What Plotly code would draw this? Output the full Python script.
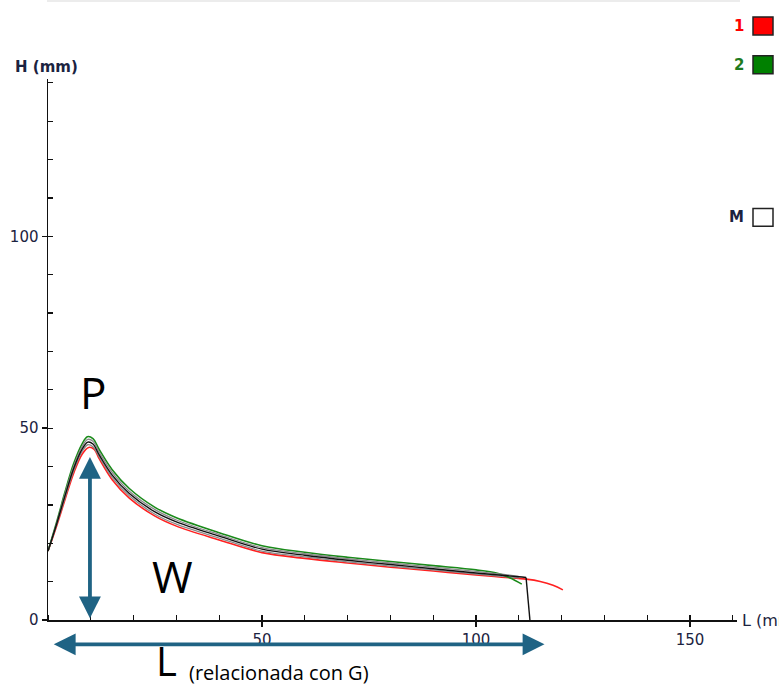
import plotly.graph_objects as go

# Series: 1 (red), 2 (green), M (black) and two intermediate grey curves
x_red = [0, 2, 4, 6, 8, 9.5, 10.8, 12, 15, 19, 25, 30, 40, 50, 60, 70, 80, 90, 100, 106, 111.7, 115, 118, 120.3]
y_red = [18, 24.5, 31.5, 38.3, 43.3, 45.0, 44.5, 42.0, 36.6, 31.8, 27.1, 24.5, 20.9, 17.6, 16.1, 14.9, 13.8, 12.8, 11.8, 11.2, 10.7, 10.1, 9.1, 7.9]

x_green = [0, 2, 4, 6, 8, 9.2, 10.5, 12, 15, 19, 25, 30, 40, 50, 60, 70, 80, 90, 100, 105, 108, 110.7]
y_green = [18, 25.5, 33.5, 40.8, 46.0, 47.8, 47.3, 44.4, 39.2, 34.3, 29.4, 26.7, 22.8, 19.4, 17.7, 16.4, 15.3, 14.2, 13.1, 12.2, 11.0, 9.4]

x_m = [0, 2, 4, 6, 8, 9.3, 10.5, 12, 15, 19, 25, 30, 40, 50, 60, 70, 80, 90, 100, 106, 110, 111.7, 112.6]
y_m = [18, 25, 32.5, 39.5, 44.6, 46.4, 45.9, 43.0, 37.8, 33.0, 28.2, 25.6, 21.9, 18.5, 16.9, 15.6, 14.5, 13.4, 12.3, 11.7, 11.3, 11.1, 0]

x_grey = [0, 2, 4, 6, 8, 9.3, 10.5, 12, 15, 19, 25, 30, 40, 50, 60, 70, 80, 90, 100, 106, 110]
y_grey_hi = [18, 25.2, 33.0, 40.1, 45.3, 47.1, 46.6, 43.7, 38.5, 33.6, 28.8, 26.1, 22.3, 18.9, 17.3, 16.0, 14.9, 13.8, 12.7, 12.0, 11.4]
y_grey_lo = [18, 24.8, 32.0, 38.9, 44.0, 45.7, 45.2, 42.5, 37.2, 32.4, 27.6, 25.0, 21.4, 18.0, 16.5, 15.2, 14.1, 13.1, 12.0, 11.4, 11.0]

x_major = [50, 100, 150]
y_major = [0, 50, 100]
x_range = [0, 161]
y_range = [0, 141]

# annotation arrows in data units: vertical (W) and horizontal (L)
w_arrow_x = [9.8, 9.8]
w_arrow_y = [0.5, 42.8]
l_arrow_x = [1.0, 116.0]
l_arrow_y = [-6.3, -6.3]

legend_labels = ["1", "2", "M"]
legend_colors = ["#ff0000", "#008000", "#ffffff"]
legend_text_colors = ["#ff0000", "#1e7a1e", "#1b2340"]

ARROW = "#1f6384"
W, H = 779, 691
HE = 684  # effective rendered vertical extent used for pixel mapping

fig = go.Figure()
sm = dict(shape="spline", smoothing=1.0)
fig.add_trace(go.Scatter(x=x_red, y=y_red, mode="lines", line=dict(color="#ff2020", width=1.6, **sm), hoverinfo="skip"))
fig.add_trace(go.Scatter(x=x_grey, y=y_grey_lo, mode="lines", line=dict(color="#8a8a8a", width=1.3, **sm), hoverinfo="skip"))
fig.add_trace(go.Scatter(x=x_green, y=y_green, mode="lines", line=dict(color="#1a8a1a", width=1.6, **sm), hoverinfo="skip"))
fig.add_trace(go.Scatter(x=x_grey, y=y_grey_hi, mode="lines", line=dict(color="#8a8a8a", width=1.3, **sm), hoverinfo="skip"))
fig.add_trace(go.Scatter(x=x_m[:-1], y=y_m[:-1], mode="lines", line=dict(color="#111111", width=1.4, **sm), hoverinfo="skip"))
fig.add_trace(go.Scatter(x=x_m[-2:], y=y_m[-2:], mode="lines", line=dict(color="#111111", width=1.4), hoverinfo="skip"))

def px(xp):
    return xp / W

def py(yp):
    return (HE - yp) / HE

# pixel geometry
x0px, xpx_per = 48, 4.28
y0px, ypx_per = 622, 3.85
xdom = [px(x0px), px(x0px + x_range[1] * xpx_per)]
ydom = [py(y0px), py(y0px - y_range[1] * ypx_per)]

def data_to_paper_x(v):
    return px(x0px + v * xpx_per)

def data_to_paper_y(v):
    return py(y0px - v * ypx_per)

tickfont = dict(family="DejaVu Sans", size=15, color="#1b2340")
fig.update_xaxes(range=x_range, domain=xdom, showgrid=False, zeroline=False,
                 showline=True, linecolor="#111", linewidth=1.5,
                 tickmode="array", tickvals=x_major, ticks="outside", ticklen=5, tickwidth=1.5, tickcolor="#111",
                 minor=dict(ticks="inside", dtick=10, tick0=0, ticklen=5, tickwidth=1.2, tickcolor="#111"),
                 tickfont=tickfont, fixedrange=True)
fig.update_yaxes(range=y_range, domain=ydom, showgrid=False, zeroline=False,
                 showline=True, linecolor="#111", linewidth=1.5,
                 tickmode="array", tickvals=y_major, ticks="outside", ticklen=5, tickwidth=1.5, tickcolor="#111",
                 minor=dict(ticks="inside", dtick=10, tick0=0, ticklen=5, tickwidth=1.2, tickcolor="#111"),
                 tickfont=tickfont, fixedrange=True)

shapes = []
annotations = []
# top faint border
shapes.append(dict(type="line", xref="paper", yref="paper", x0=px(47), x1=px(740), y0=py(1), y1=py(1),
                   line=dict(color="#e6e6e6", width=1.5)))
# legend boxes
legend_rows = [26, 65, 218]
for lab, fc, tc, yc in zip(legend_labels, legend_colors, legend_text_colors, legend_rows):
    shapes.append(dict(type="rect", xref="paper", yref="paper", x0=px(753), x1=px(773), y0=py(yc + 9), y1=py(yc - 9),
                       fillcolor=fc, line=dict(color="#222", width=1.5)))
    annotations.append(dict(text="<b>%s</b>" % lab, xref="paper", yref="paper", x=px(746), y=py(yc),
                            xanchor="right", yanchor="middle", showarrow=False,
                            font=dict(family="DejaVu Sans", size=15, color=tc)))

# axis titles
annotations.append(dict(text="<b>H (mm)</b>", xref="paper", yref="paper", x=px(13), y=py(67), xanchor="left",
                        yanchor="middle", showarrow=False, font=dict(family="DejaVu Sans", size=15, color="#1b2340")))
annotations.append(dict(text="L (mm)", xref="paper", yref="paper", x=px(740), y=py(622), xanchor="left",
                        yanchor="middle", showarrow=False, font=dict(family="DejaVu Sans", size=16, color="#1b2340")))

# overlay labels
annotations.append(dict(text="P", xref="paper", yref="paper", x=px(93), y=py(393), xanchor="center", yanchor="middle",
                        showarrow=False, font=dict(family="Open Sans", size=44, color="#000")))
annotations.append(dict(text="W", xref="paper", yref="paper", x=px(172), y=py(578), xanchor="center", yanchor="middle",
                        showarrow=False, font=dict(family="Open Sans", size=44, color="#000")))
annotations.append(dict(text="L", xref="paper", yref="paper", x=px(154), y=py(HE - 0.5), xanchor="left", yanchor="bottom",
                        yshift=-8, showarrow=False, font=dict(family="Open Sans", size=40, color="#000")))
annotations.append(dict(text="(relacionada con G)", xref="paper", yref="paper", x=px(187), y=py(674), xanchor="left",
                        yanchor="middle", showarrow=False, font=dict(family="Open Sans", size=20, color="#000")))

# arrows (double-headed), placed in paper space from data values
annotations.append(dict(x=data_to_paper_x(w_arrow_x[0]), y=data_to_paper_y(w_arrow_y[0]),
                        xref="paper", yref="paper", axref="pixel", ayref="pixel",
                        ax=0, ay=-(w_arrow_y[1] - w_arrow_y[0]) * ypx_per, text="", showarrow=True,
                        arrowside="end+start", arrowhead=2, arrowsize=1.15, arrowwidth=3.8, arrowcolor=ARROW))
annotations.append(dict(x=data_to_paper_x(l_arrow_x[1]), y=data_to_paper_y(l_arrow_y[1]),
                        xref="paper", yref="paper", axref="pixel", ayref="pixel",
                        ax=-(l_arrow_x[1] - l_arrow_x[0]) * xpx_per, ay=0, text="", showarrow=True,
                        arrowside="end+start", arrowhead=2, arrowsize=1.15, arrowwidth=3.8, arrowcolor=ARROW))

fig.update_layout(width=W, height=H, margin=dict(l=0, r=0, t=0, b=0), showlegend=False,
                  plot_bgcolor="white", paper_bgcolor="white", shapes=shapes, annotations=annotations)

fig.write_html("out.html", config={"displayModeBar": False, "staticPlot": True},
               post_script="document.body.style.margin='0';document.body.style.overflow='hidden';")
